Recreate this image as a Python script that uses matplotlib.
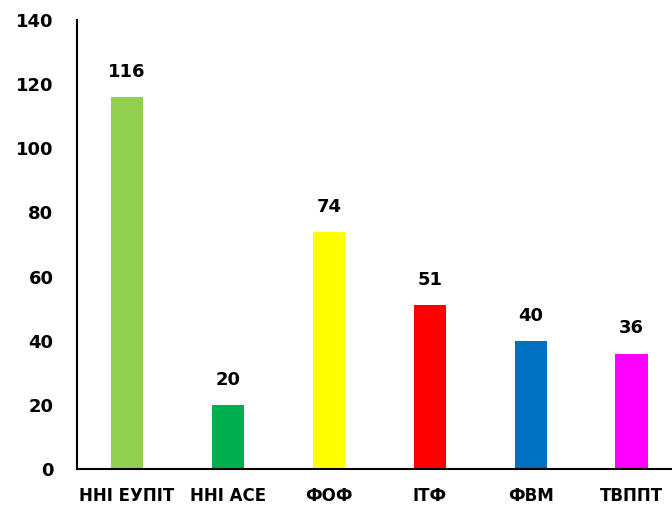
import matplotlib
matplotlib.use("Agg")
import matplotlib.pyplot as plt

# ── Data ──────────────────────────────────────────────────────────────────────
categories = ["ННІ ЕУПІТ", "ННІ АСЕ", "ФОФ", "ІТФ", "ФВМ", "ТВППТ"]
values = [116, 20, 74, 51, 40, 36]
colors = ["#92D050", "#00B050", "#FFFF00", "#FF0000", "#0070C0", "#FF00FF"]
yticks = [0, 20, 40, 60, 80, 100, 120, 140]

# ── Plot ──────────────────────────────────────────────────────────────────────
plt.rcParams["font.family"] = ["DejaVu Sans"]
fig = plt.figure(figsize=(6.72, 5.07), dpi=100)
ax = fig.add_axes([0.1146, 0.075, 0.8854, 0.8856])

x = list(range(len(categories)))
bars = ax.bar(x, values, width=0.32, color=colors, zorder=2)
for bar, v in zip(bars, values):
    ax.text(bar.get_x() + bar.get_width() / 2, v + 5, str(v),
            ha="center", va="bottom", fontsize=13, fontweight="bold")

ax.set_xlim(-0.495, 5.4)
ax.set_ylim(0, 140)
ax.set_yticks(yticks)
ax.set_xticks(x)
ax.set_xticklabels(categories, fontsize=12, fontweight="bold")
for lbl in ax.get_yticklabels():
    lbl.set_fontsize(13)
    lbl.set_fontweight("bold")
ax.tick_params(axis="x", length=0, pad=13)
ax.tick_params(axis="y", length=0, pad=17)

for s in ["top", "right"]:
    ax.spines[s].set_visible(False)
ax.spines["left"].set_linewidth(1.5)
ax.spines["bottom"].set_linewidth(1.5)

plt.savefig("out.png", dpi=100)
